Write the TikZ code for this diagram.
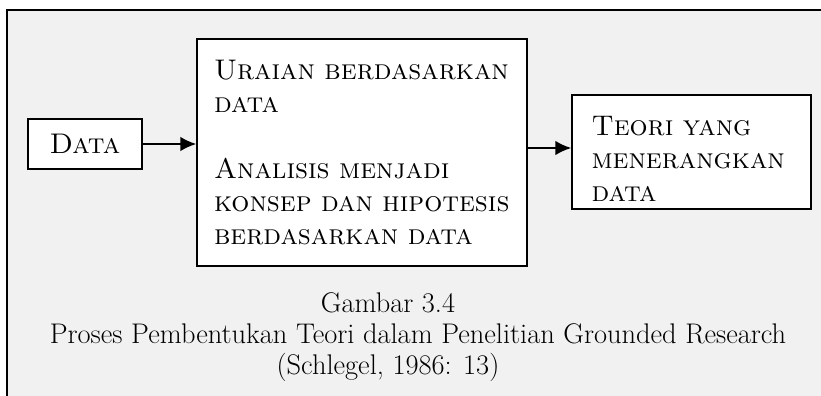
\documentclass[tikz,border=0pt]{standalone}
\usepackage{fontspec}
\usepackage{xcolor}
\usepackage{tikz}
\usetikzlibrary{positioning,arrows.meta}
\definecolor{panelgray}{HTML}{F1F1F1}
\tikzset{>={Latex[length=12pt,width=11pt]}}

\begin{document}
\begin{tikzpicture}[x=0.75pt,y=-0.75pt,
font=\fontsize{21.3}{24.75}\selectfont,
squarednode/.style={rectangle, draw=black, line width=1pt, fill=white, align=left, inner sep=0pt},
captionline/.style={anchor=base, inner sep=0pt},
]
\clip (0,0) rectangle (821,396);
%Frame
\draw[line width=1.3pt, fill=panelgray] (7,10) rectangle (840,420);

%Nodes
\node[squarednode, minimum width=114pt*0.75, minimum height=50pt*0.75, align=center](Data) at (85,144){\textsc{Data}};
\node[squarednode, minimum width=330pt*0.75, minimum height=227pt*0.75, text width=296pt*0.75](Uraian) at (362,152.5){\textsc{Uraian berdasarkan}\\ \textsc{data}\\[24.75pt] \textsc{Analisis menjadi}\\ \textsc{konsep dan hipotesis}\\ \textsc{berdasarkan data}};
\node[squarednode, minimum width=239pt*0.75, minimum height=114pt*0.75, text width=200pt*0.75](Teori) at (691.5,152){\rule{0pt}{24pt}\textsc{Teori yang}\\ \textsc{menerangkan}\\ \textsc{data}};

%Caption
\node[captionline](Gambar) at (388,312){Gambar 3.4};
\node[captionline](Judul) at (418,343){Proses Pembentukan Teori dalam Penelitian Grounded Research};
\node[captionline](Sumber) at (388,374){(Schlegel, 1986: 13)};

%Lines
\draw[->, line width=1.6pt] (Data.east) -- (Data.east -| Uraian.west);
\draw[->, line width=1.6pt] (Uraian.east |- 0,148) -- (Teori.west |- 0,148);

\end{tikzpicture}
\end{document}
